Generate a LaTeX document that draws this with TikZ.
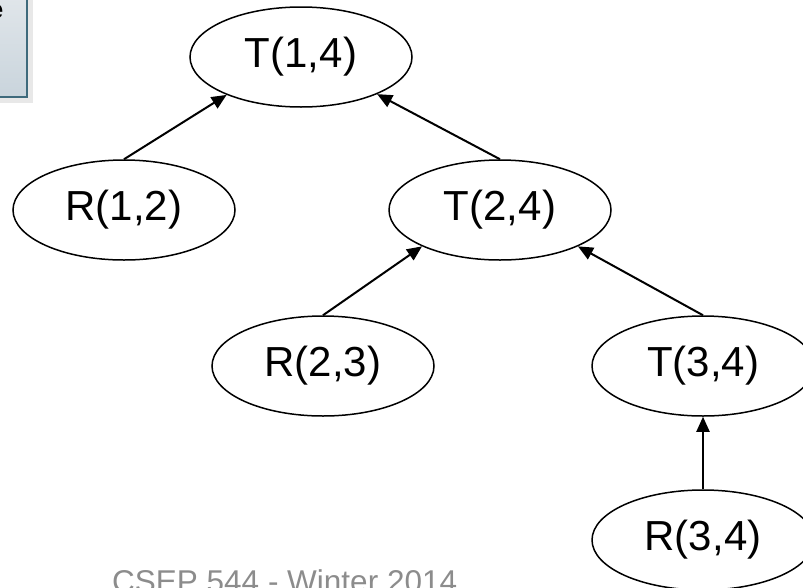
\documentclass[tikz,border=0pt]{standalone}
\usepackage{fontspec}
\setmainfont{Liberation Sans}
\usetikzlibrary{shapes.geometric,arrows.meta}
\definecolor{boxborder}{HTML}{3E6A7C}
\definecolor{boxtop}{HTML}{E2E7EB}
\definecolor{boxbot}{HTML}{C9D4DC}
\definecolor{footgrey}{HTML}{8C8C8C}
\begin{document}
\begin{tikzpicture}[x=1pt,y=-1pt,
  tnode/.style={ellipse,draw,line width=1.5pt,minimum width=222pt,minimum height=100pt,inner sep=0pt,font=\fontsize{42}{42}\selectfont},
  edge/.style={line width=2pt,-{Triangle[length=15pt,width=13pt]}}]
\useasboundingbox (0,0) rectangle (803,587);
% partial box at top-left
\fill[black!18] (-10,-10) rectangle (31,101);
\fill[black!9] (-10,-10) rectangle (33,103);
\shade[top color=boxtop,bottom color=boxbot] (-10,-10) rectangle (27,97);
\draw[boxborder,line width=2pt] (-10,97) -- (27,97) -- (27,-10);
\node[anchor=base east,inner sep=0pt,font=\fontsize{26}{26}\selectfont\bfseries] (ecut) at (3.5,18) {e};
% tree
\node[tnode] (t14) at (301,57) {T(1,4)};
\node[tnode] (r12) at (124,210) {R(1,2)};
\node[tnode] (t24) at (500,210) {T(2,4)};
\node[tnode] (r23) at (323,366) {R(2,3)};
\node[tnode] (t34) at (703,366) {T(3,4)};
\node[tnode] (r34) at (703,540) {R(3,4)};
\draw[edge] (r12.north) -- (t14.207);
\draw[edge] (t24.north) -- (t14.-26);
\draw[edge] (r23.north) -- (t24.205);
\draw[edge] (t34.north) -- (t24.-25);
\draw[edge] (r34.north) -- (t34.south);
% footer
\node[anchor=base west,inner sep=0pt,text=footgrey,font=\fontsize{31.5}{31.5}\selectfont] (foot) at (112,592.5) {CSEP 544 - Winter 2014};
\end{tikzpicture}
\end{document}
